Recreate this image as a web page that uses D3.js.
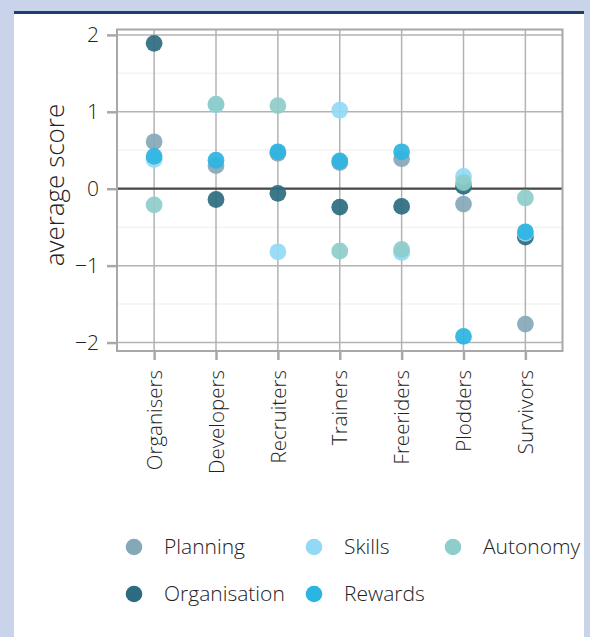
<!DOCTYPE html>
<html><head><meta charset="utf-8">
<script src="https://cdn.jsdelivr.net/npm/d3@7"></script>
<style>
html,body{margin:0;padding:0;background:#c9d3ea;}
svg{display:block;font-family:"Open Sans",sans-serif;}
</style></head>
<body>
<svg id="c" width="590" height="637"></svg>
<script>
const categories = ["Organisers","Developers","Recruiters","Trainers","Freeriders","Plodders","Survivors"];
const seriesNames = ["Planning","Skills","Autonomy","Organisation","Rewards"];
const planning     = [0.61, 0.30, 0.46, 0.34, 0.39, -0.20, -1.76];
const skills       = [0.38, 1.09, -0.82, 1.02, -0.83, 0.16, -0.58];
const autonomy     = [-0.21, 1.10, 1.08, -0.81, -0.79, 0.08, -0.12];
const organisation = [1.89, -0.14, -0.06, -0.24, -0.23, 0.03, -0.63];
const rewards      = [0.42, 0.37, 0.48, 0.36, 0.48, -1.92, -0.56];
const yTicks = [-2, -1, 0, 1, 2];
const colors = {Planning:"#85a8b9", Skills:"#92d9f6", Autonomy:"#8dcdca", Organisation:"#2d6c80", Rewards:"#2cb4e2"};
const values = {Planning:planning, Skills:skills, Autonomy:autonomy, Organisation:organisation, Rewards:rewards};
const drawOrder = ["Planning","Organisation","Skills","Autonomy","Rewards"];

const svg = d3.select("#c");
svg.append("rect").attr("x",14).attr("y",11).attr("width",570).attr("height",626).attr("fill","#fff");
svg.append("rect").attr("x",14).attr("y",11).attr("width",570).attr("height",3).attr("fill","#1d3f6e");

const L = 117, R = 562.5, T = 29.5, B = 351;
const x = d3.scalePoint().domain(categories).range([L, R]).padding(0.6);
const y = d3.scaleLinear().domain([-2.11, 2.07]).range([B, T]);

const g = svg.append("g");
[-1.5,-0.5,0.5,1.5].forEach(v=>{
  g.append("line").attr("x1",L).attr("x2",R).attr("y1",y(v)).attr("y2",y(v)).attr("stroke","#f3f3f3").attr("stroke-width",1.5);
});
yTicks.forEach(v=>{
  g.append("line").attr("x1",L).attr("x2",R).attr("y1",y(v)).attr("y2",y(v)).attr("stroke","#b3b3b3").attr("stroke-width",1.5);
});
categories.forEach(c=>{
  g.append("line").attr("x1",x(c)).attr("x2",x(c)).attr("y1",T).attr("y2",B).attr("stroke","#b3b3b3").attr("stroke-width",1.5);
});
g.append("line").attr("x1",L).attr("x2",R).attr("y1",y(0)).attr("y2",y(0)).attr("stroke","#4a4a4a").attr("stroke-width",2.2);

drawOrder.forEach(s=>{
  g.selectAll(null).data(categories.map((c,i)=>({c, v:values[s][i]}))).enter()
    .append("circle").attr("cx",d=>x(d.c)).attr("cy",d=>y(d.v)).attr("r",8.4)
    .attr("fill",colors[s]).attr("fill-opacity",0.92);
});

g.append("rect").attr("x",L).attr("y",T).attr("width",R-L).attr("height",B-T)
  .attr("fill","none").attr("stroke","#a8a8a8").attr("stroke-width",2);

const ya = svg.append("g").attr("transform",`translate(${L},0)`)
  .call(d3.axisLeft(y).tickValues(yTicks).tickSize(10).tickPadding(8).tickFormat(d=>d<0?"\u2212"+Math.abs(d):d));
ya.select(".domain").remove();
ya.selectAll(".tick line").attr("stroke","#a8a8a8").attr("stroke-width",2.5);
ya.selectAll(".tick text").attr("fill","#222").attr("font-size",21).attr("font-weight",300).attr("font-family","Open Sans");

const xa = svg.append("g").attr("transform",`translate(0,${B})`)
  .call(d3.axisBottom(x).tickSize(9).tickPadding(0));
xa.select(".domain").remove();
xa.selectAll(".tick line").attr("stroke","#a8a8a8").attr("stroke-width",2.5);
xa.selectAll(".tick text").attr("fill","#222").attr("font-size",20.5).attr("font-weight",300).attr("font-family","Open Sans")
  .attr("transform","rotate(-90)").attr("text-anchor","end").attr("dy","0.35em").attr("x",-19).attr("y",0);

svg.append("text").attr("transform","translate(64,185) rotate(-90)").attr("text-anchor","middle")
  .attr("font-size",26).attr("font-weight",300).attr("fill","#222").text("average score");

const legPos = [[134,547],[314,547],[453,547],[134,594],[314,594]];
seriesNames.forEach((s,i)=>{
  const [cx,cy] = legPos[i];
  svg.append("circle").attr("cx",cx).attr("cy",cy).attr("r",8.3).attr("fill",colors[s]);
  svg.append("text").attr("x",cx+30).attr("y",cy).attr("dy","0.35em").attr("font-size",21).attr("font-weight",300)
    .attr("fill","#222").text(s);
});
</script>
</body></html>
